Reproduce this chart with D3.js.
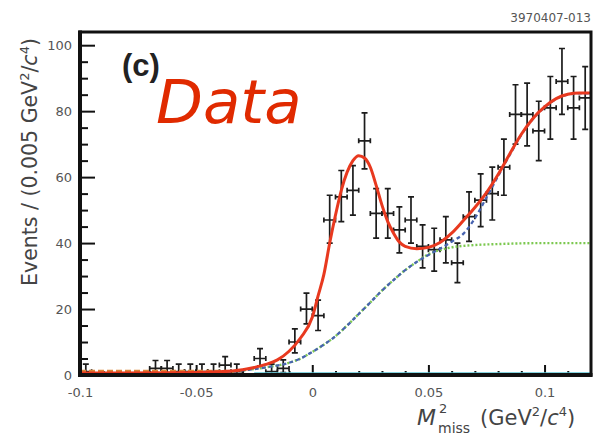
<!DOCTYPE html>
<html><head><meta charset="utf-8">
<script src="https://cdn.jsdelivr.net/npm/d3@7"></script>
<style>body{margin:0;background:#fff}svg{display:block}</style>
</head><body>
<svg id="c" width="598" height="436"></svg>
<script>
// ---- data ----
const binCenters = [-0.0975,-0.0925,-0.0875,-0.0825,-0.0775,-0.0725,-0.0675,-0.0625,-0.0575,-0.0525,
  -0.0475,-0.0425,-0.0375,-0.0325,-0.0275,-0.0225,-0.0175,-0.0125,-0.0075,-0.0025,
  0.0025,0.0075,0.0125,0.0175,0.0225,0.0275,0.0325,0.0375,0.0425,0.0475,
  0.0525,0.0575,0.0625,0.0675,0.0725,0.0775,0.0825,0.0875,0.0925,0.0975,
  0.1025,0.1075,0.1125,0.1175];
const counts = [1,0,0,0,0,0,2,2,1,1,
  1,1,3,1,0,5,1,2,10,20,
  18,47,54,56,71,49,49,44,47,39,
  38,41,34,48,53,55,63,79,79,74,
  81,89,81,84];
const errLow = [0.8,0,0,0,0,0,1.3,1.3,0.8,0.8,
  0.8,0.8,2,0.8,0,2.2,0.8,1.3,3.3,4.5,
  4.5,7,7.5,7.5,8.5,7.5,7.5,7,7,6.5,
  6.5,7,6,7.5,8,8,8.5,9,9.5,9,
  9.5,10,9.5,9.5];
const errHigh = [2.3,0,0,0,0,0,2.4,2.4,2.3,2.3,
  2.3,2.3,2.6,2.3,0,3,2.3,2.6,4,4.8,
  4.7,7.5,8,7.5,8.5,7.5,7.5,7,7,6.5,
  6.5,7,6,7.5,8,8,8.5,9,9.5,9,
  9.5,10,9.5,9.5];
const binWidth = 0.005;

const totalFitX = [-0.1,-0.06,-0.04,-0.03,-0.025,-0.02,-0.015,-0.01,-0.005,0,0.0025,0.005,0.0075,0.01,0.0125,0.015,0.0175,0.02,0.0225,0.025,0.0275,0.03,0.0325,0.035,0.0375,0.04,0.045,0.05,0.055,0.06,0.065,0.07,0.075,0.08,0.085,0.09,0.095,0.1,0.105,0.11,0.115,0.12];
const totalFitY = [0.6,0.7,1.0,1.6,2.3,3.2,4.6,7.2,11.3,17.5,24,30.5,40,48.5,56,61.5,65,66.5,65.8,63,57.5,51.5,46.5,43,40.3,39,38.3,38.7,40.2,43,46.8,50.8,55.3,60.8,67,73,77.8,81.3,83.8,85.1,85.5,85.5];
const bkgX = [-0.1,-0.06,-0.04,-0.03,-0.02,-0.01,-0.005,0,0.005,0.01,0.015,0.02,0.025,0.03,0.035,0.04,0.045,0.05,0.055,0.06,0.065,0.07,0.075,0.08,0.085,0.09,0.095,0.1,0.105,0.11,0.115,0.12];
const bkgY = [0.3,0.4,0.8,1.4,2.3,3.7,5,7,9.2,11.8,15,18.5,22,25.6,28.8,31.8,34.3,36.4,38.3,40.4,42.8,47.5,53.8,60.3,66.7,72.8,77.6,81.1,83.7,85,85.4,85.4];
const plateauX = [-0.1,-0.06,-0.04,-0.03,-0.02,-0.01,-0.005,0,0.005,0.01,0.015,0.02,0.025,0.03,0.035,0.04,0.045,0.05,0.055,0.06,0.07,0.08,0.1,0.12];
const plateauY = [0.3,0.4,0.8,1.4,2.3,3.7,5,7,9.2,11.8,15,18.5,22,25.6,28.8,31.8,34.3,36.6,37.9,38.7,39.4,39.7,40,40];
const sideX = [-0.1,-0.037];
const sideY = [1.2,1.2];
const flatX = [-0.025,0.12];
const flatY = [0.5,0.5];

const xTickVals = [-0.1,-0.05,0,0.05,0.1];
const xTickLabels = ["-0.1","-0.05","0","0.05","0.1"];
const yTickVals = [0,20,40,60,80,100];
const yTickLabels = ["0","20","40","60","80","100"];

// ---- layout ----
const svg = d3.select("#c");
const L=80,R=591,T=32,B=375;
const x = d3.scaleLinear().domain([-0.1,0.12]).range([L,R]);
const y = d3.scaleLinear().domain([0,104]).range([B,T]);

svg.append("defs").append("clipPath").attr("id","pc")
  .append("rect").attr("x",L).attr("y",T).attr("width",R-L).attr("height",B-T);

// y axis ticks
const yMinor = d3.range(0,105,5).filter(v=>v%20!==0);
const gy = svg.append("g").attr("transform",`translate(${L},0)`);
gy.call(d3.axisLeft(y).tickValues(yMinor).tickSize(-8).tickFormat(""));
gy.call(g=>g.select(".domain").remove());
const gy2 = svg.append("g").attr("transform",`translate(${L},0)`);
gy2.call(d3.axisLeft(y).tickValues(yTickVals).tickSize(-15).tickPadding(8)
  .tickFormat((d,i)=>yTickLabels[i]));
gy2.select(".domain").remove();
svg.selectAll("g .tick line").attr("stroke","#111").attr("stroke-width",2);
gy2.selectAll("text").attr("font-family","DejaVu Sans").attr("font-size",13).attr("fill","#555");

// x axis ticks
const xMinor = d3.range(-9,12).map(i=>i/100).filter(v=>Math.abs(Math.round(v*100))%5!==0);
const gx = svg.append("g").attr("transform",`translate(0,${B})`);
gx.call(d3.axisBottom(x).tickValues(xMinor).tickSize(-4).tickFormat(""));
gx.select(".domain").remove();
const gx2 = svg.append("g").attr("transform",`translate(0,${B})`);
gx2.call(d3.axisBottom(x).tickValues(xTickVals).tickSize(-10).tickPadding(13)
  .tickFormat((d,i)=>xTickLabels[i]));
gx2.select(".domain").remove();
svg.selectAll("g .tick line").attr("stroke","#111").attr("stroke-width",2);
gx2.selectAll("text").attr("font-family","DejaVu Sans").attr("font-size",13).attr("fill","#555");

// data points
const plot = svg.append("g").attr("clip-path","url(#pc)");
const pts = binCenters.map((c,i)=>({c,v:counts[i],lo:errLow[i],hi:errHigh[i]})).filter(d=>d.v>0);
const pg = plot.append("g").attr("stroke","#1c1c1c").attr("stroke-width",1.7).attr("fill","none");
pts.forEach(d=>{
  const cx=x(d.c), cy=y(d.v), yt=y(d.v+d.hi), yb=y(Math.max(0,d.v-d.lo));
  const xl=x(d.c-binWidth/2), xr=x(d.c+binWidth/2);
  const p = d3.path();
  p.moveTo(cx,yt); p.lineTo(cx,yb);
  p.moveTo(cx-3,yt); p.lineTo(cx+3,yt);
  p.moveTo(cx-3,yb); p.lineTo(cx+3,yb);
  p.moveTo(xl,cy); p.lineTo(xr,cy);
  p.moveTo(xl,cy-2.5); p.lineTo(xl,cy+2.5);
  p.moveTo(xr,cy-2.5); p.lineTo(xr,cy+2.5);
  pg.append("path").attr("d",p.toString());
});

// curves
const line = d3.line().x(d=>x(d[0])).y(d=>y(d[1])).curve(d3.curveMonotoneX);
const zip=(a,b)=>a.map((v,i)=>[v,b[i]]);
plot.append("path").attr("d",line(zip(flatX,flatY))).attr("fill","none")
  .attr("stroke","#5cc6d6").attr("stroke-width",2.2);
plot.append("path").attr("d",line(zip(sideX,sideY))).attr("fill","none")
  .attr("stroke","#d9873a").attr("stroke-width",2.5).attr("stroke-dasharray","6,3");
plot.append("path").attr("d",line(zip(plateauX,plateauY))).attr("fill","none")
  .attr("stroke","#7cc850").attr("stroke-width",2.4).attr("stroke-dasharray","2,2");
plot.append("path").attr("d",line(zip(bkgX,bkgY))).attr("fill","none")
  .attr("stroke","#4763b0").attr("stroke-width",2.3).attr("stroke-dasharray","4,3");
plot.append("path").attr("d",line(zip(totalFitX,totalFitY))).attr("fill","none")
  .attr("stroke","#e8391f").attr("stroke-width",3);

// frame
svg.append("rect").attr("x",L).attr("y",T).attr("width",R-L).attr("height",B-T)
  .attr("fill","none").attr("stroke","#111").attr("stroke-width",3);
svg.append("line").attr("x1",L).attr("x2",L).attr("y1",T-1.5).attr("y2",B+2).attr("stroke","#111").attr("stroke-width",4);
svg.append("line").attr("x1",L-2).attr("x2",R+1.5).attr("y1",B).attr("y2",B).attr("stroke","#111").attr("stroke-width",4);

// texts
svg.append("text").attr("x",122).attr("y",75.5).attr("font-family","Liberation Sans")
  .attr("font-weight","bold").attr("font-size",31).attr("fill","#222").text("(c)");
svg.append("text").attr("x",156).attr("y",123).attr("font-family","DejaVu Sans")
  .attr("font-style","italic").attr("font-size",61).attr("fill","#e02a00").text("Data");
svg.append("text").attr("x",591).attr("y",22).attr("text-anchor","end").attr("font-family","DejaVu Sans")
  .attr("font-size",12).attr("fill","#555").text("3970407-013");

// y title
const yt = svg.append("text").attr("transform","translate(37,162) rotate(-90)")
  .attr("text-anchor","middle").attr("font-family","DejaVu Sans").attr("font-size",20.5).attr("fill","#444");
yt.append("tspan").text("Events / (0.005 GeV");
yt.append("tspan").attr("font-size",13).attr("dy",-8).text("2");
yt.append("tspan").attr("dy",8).text("/");
yt.append("tspan").attr("font-style","italic").text("c");
yt.append("tspan").attr("font-size",13).attr("dy",-8).text("4");
yt.append("tspan").attr("dy",8).text(")");

// x title
const xg = svg.append("g").attr("font-family","DejaVu Sans").attr("fill","#444");
xg.append("text").attr("x",417).attr("y",425).attr("font-size",22).attr("font-style","italic").text("M");
xg.append("text").attr("x",439).attr("y",413).attr("font-size",13).text("2");
xg.append("text").attr("x",438).attr("y",433).attr("font-size",14).text("miss");
const xt = xg.append("text").attr("x",480).attr("y",425).attr("font-size",21);
xt.append("tspan").text("(GeV");
xt.append("tspan").attr("font-size",13).attr("dy",-9).text("2");
xt.append("tspan").attr("dy",9).text("/");
xt.append("tspan").attr("font-style","italic").text("c");
xt.append("tspan").attr("font-size",13).attr("dy",-9).text("4");
xt.append("tspan").attr("dy",9).text(")");
</script>
</body></html>
